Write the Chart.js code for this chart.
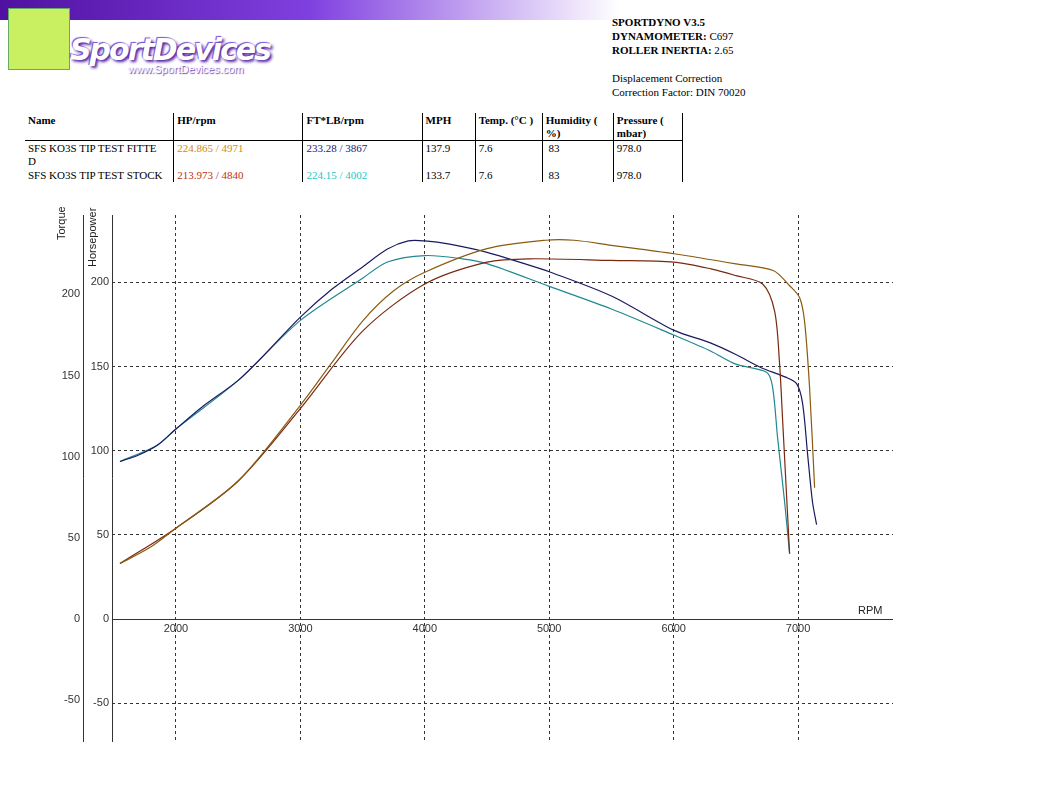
<!DOCTYPE html>
<html>
<head>
<meta charset="utf-8">
<script src="https://cdn.jsdelivr.net/npm/chart.js@4"></script>
<style>
  body { margin:0; width:1052px; height:812px; background:#fff; position:relative; overflow:hidden; font-family:"Liberation Serif", serif; }
  #banner { position:absolute; left:0; top:0; width:620px; height:20px; background:linear-gradient(to right,#5010a0,#8040e0 50%,rgba(255,255,255,0)); }
  #logoSq { position:absolute; left:8px; top:8px; width:60px; height:60px; background:#c8f060; border:1px solid #6a6; }
  #logoTx { position:absolute; left:70px; top:32px; font:italic bold 30px "DejaVu Sans", sans-serif; color:#fff; text-shadow:2px 2px 3px #5020a0, -1px -1px 1px #8050d0; letter-spacing:-2px; }
  #logoUrl { position:absolute; left:128px; top:63px; font:11px "Liberation Sans", sans-serif; color:#fff; text-shadow:1px 1px 1px #6030b0; }
  #info { position:absolute; left:612px; top:15px; font-size:11px; line-height:14px; color:#000; }
  table { position:absolute; left:25px; top:113px; border-collapse:collapse; font-size:11px; line-height:13px; table-layout:fixed; width:665px; }
  td, th { vertical-align:top; padding:1px 3px 0 3px; text-align:left; }
  th { border-bottom:1px solid #000; font-weight:bold; height:24px; }
  .bl { border-left:1px solid #000; }
  #wrap { position:absolute; left:0; top:200px; width:1052px; height:560px; }
  .vt { position:absolute; font:11px "Liberation Sans", sans-serif; color:#222; transform:rotate(-90deg); transform-origin:left top; white-space:nowrap; }
  #rpm { position:absolute; left:858px; top:604px; font:11px "Liberation Sans", sans-serif; color:#222; }
</style>
</head>
<body>
<div id="banner"></div>
<div id="logoSq"></div>
<div id="logoTx">SportDevices</div>
<div id="logoUrl">www.SportDevices.com</div>
<div id="info"><b>SPORTDYNO V3.5</b><br><b>DYNAMOMETER:</b> C697<br><b>ROLLER INERTIA:</b> 2.65<br><br>Displacement Correction<br>Correction Factor: DIN 70020</div>
<table>
<tr><th style="width:142px">Name</th><th class="bl" style="width:122px">HP/rpm</th><th class="bl" style="width:112px">FT*LB/rpm</th><th class="bl" style="width:46px">MPH</th><th class="bl" style="width:60px">Temp. (°C )</th><th class="bl" style="width:64px">Humidity ( %)</th><th class="bl" style="width:62px">Pressure ( mbar)</th><td class="bl" style="width:1px"></td></tr>
<tr><td>SFS KO3S TIP TEST FITTE<br>D</td><td class="bl" style="color:#d08a10">224.865 / 4971</td><td class="bl" style="color:#202080">233.28 / 3867</td><td class="bl">137.9</td><td class="bl">7.6</td><td class="bl">&nbsp;83</td><td class="bl">978.0</td><td class="bl"></td></tr>
<tr><td style="white-space:nowrap">SFS KO3S TIP TEST STOCK</td><td class="bl" style="color:#c03010">213.973 / 4840</td><td class="bl" style="color:#20c8c8">224.15 / 4002</td><td class="bl">133.7</td><td class="bl">7.6</td><td class="bl">&nbsp;83</td><td class="bl">978.0</td><td class="bl"></td></tr>
</table>
<div id="wrap"><canvas id="c" width="1052" height="560"></canvas></div>
<div class="vt" style="left:55px;top:240px;">Torque</div>
<div class="vt" style="left:86px;top:267px;">Horsepower</div>
<div id="rpm">RPM</div>
<script>
// [rpm, value] pairs
const torqueFitted = [[1550,97],[1700,101],[1850,107],[2000,117],[2200,130],[2500,147],[2700,162],[3000,186],[3250,203],[3500,217],[3700,228],[3867,233],[4000,233],[4200,231],[4500,226],[4800,219],[5000,214],[5500,199],[6000,178],[6300,170],[6500,163],[6700,155],[6900,149],[6988,145],[7036,133],[7076,102],[7116,72],[7149,58]];
const torqueStock = [[1550,97],[1850,107],[2000,117],[2500,147],[3000,184],[3500,210],[3700,220],[4002,224],[4300,222],[4500,219],[5000,205],[5500,191],[6000,175],[6300,165],[6500,157],[6747,152],[6795,143],[6835,112],[6892,72],[6932,40]];
const hpFitted = [[1550,33],[1800,43],[2000,54],[2500,82],[3000,127],[3250,152],[3500,177],[3750,195],[4000,206],[4500,220],[4971,225],[5200,225],[5500,222],[6000,217],[6500,211],[6800,207],[6932,198],[7012,191],[7052,177],[7092,138],[7133,78]];
const hpStock = [[1550,33],[2000,54],[2500,82],[3000,125],[3500,171],[4000,199],[4500,212],[4840,214],[5500,213],[6000,212],[6300,208],[6500,204],[6715,199],[6811,183],[6851,152],[6876,118],[6932,39]];
const rpmTicks = [2000,3000,4000,5000,6000,7000];

const pts = a => a.map(p => ({x:p[0], y:p[1]}));
const fifty = s => { s.ticks = s.ticks.filter(t => t.value % 50 === 0); };
const tickFont = {family:"Liberation Sans", size:11};

// y tick labels + solid axis lines drawn by hand so they sit where the dyno software puts them
const axisLabels = {
  id:"axisLabels",
  afterDraw(chart) {
    const c = chart.ctx, a = chart.chartArea, tq = chart.scales.tq, hp = chart.scales.hp;
    c.save();
    c.font = "11px 'Liberation Sans'";
    c.fillStyle = "#333";
    c.textAlign = "right";
    c.textBaseline = "middle";
    tq.ticks.forEach(t => c.fillText(t.value, 80, tq.getPixelForValue(t.value)));
    hp.ticks.forEach(t => c.fillText(t.value, 109, hp.getPixelForValue(t.value)));
    c.strokeStyle = "#333";
    c.lineWidth = 1;
    c.beginPath();
    c.moveTo(83.5, a.top); c.lineTo(83.5, a.bottom);
    c.moveTo(a.left + 0.5, a.top); c.lineTo(a.left + 0.5, a.bottom);
    const y0 = Math.round(hp.getPixelForValue(0)) + 0.5;
    c.moveTo(a.left, y0); c.lineTo(a.right, y0);
    c.stroke();
    c.restore();
  }
};

new Chart(document.getElementById("c"), {
  type: "line",
  data: {
    datasets: [
      {data: pts(hpFitted), yAxisID:"hp", borderColor:"#8a5a10"},
      {data: pts(hpStock), yAxisID:"hp", borderColor:"#7a2810"},
      {data: pts(torqueFitted), yAxisID:"tq", borderColor:"#1a1a60"},
      {data: pts(torqueStock), yAxisID:"tq", borderColor:"#208890"}
    ]
  },
  options: {
    responsive:false, animation:false,
    layout:{padding:{top:15, right:159, bottom:18, left:0}},
    elements:{point:{radius:0}, line:{borderWidth:1.2, tension:0.3}},
    plugins:{legend:{display:false}, tooltip:{enabled:false}},
    scales: {
      x: {type:"linear", min:1486, max:7763, position:{hp:0},
          afterBuildTicks: s => { s.ticks = rpmTicks.map(v => ({value:v})); },
          ticks:{font:tickFont, color:"#333", padding:3, maxRotation:0, callback: v => String(v)},
          grid:{color:"#333", drawTicks:false},
          border:{display:false, dash:[3,3]}},
      tq: {type:"linear", position:"left", min:-76, max:249, afterBuildTicks:fifty,
           afterFit: s => { s.width = 83; },
           ticks:{display:false},
           grid:{display:false}, border:{display:false}},
      hp: {type:"linear", position:"left", min:-73, max:240, afterBuildTicks:fifty,
           afterFit: s => { s.width = 29; },
           ticks:{display:false},
           grid:{color:"#333", drawTicks:false}, border:{display:false, dash:[3,3]}}
    }
  },
  plugins: [axisLabels]
});
</script>
</body>
</html>
